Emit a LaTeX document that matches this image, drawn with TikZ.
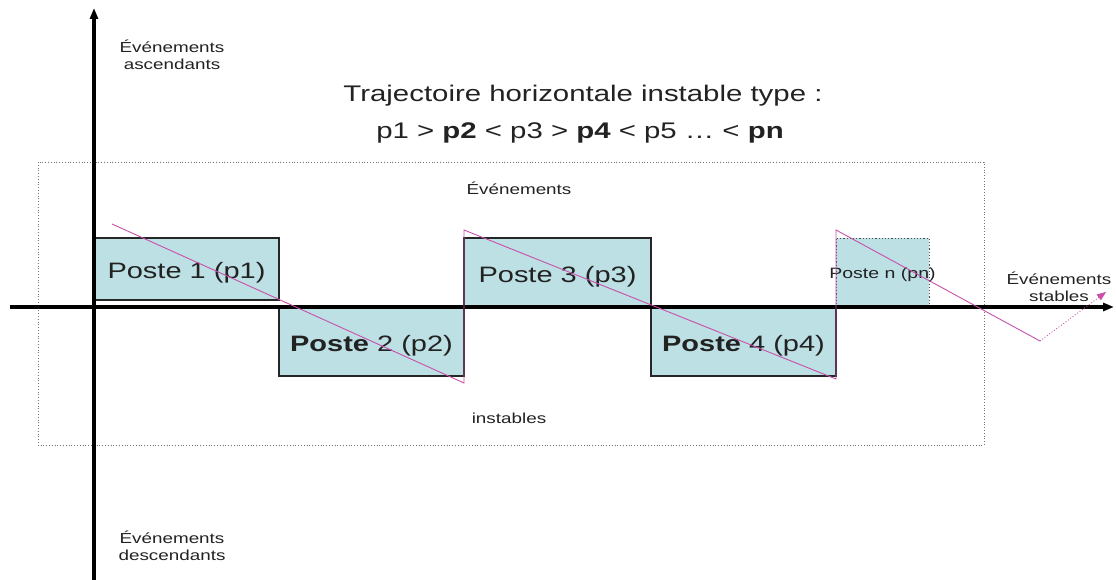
\documentclass[tikz,border=0pt]{standalone}
\usepackage{fontspec}
\setmainfont[FakeStretch=1.3]{Liberation Sans}
\usetikzlibrary{arrows.meta}
\definecolor{boxfill}{RGB}{189,224,228}
\definecolor{txt}{RGB}{34,34,34}
\definecolor{traj}{RGB}{200,80,170}
\begin{document}
\begin{tikzpicture}[x=1pt,y=-1pt,
  lbl/.style={inner sep=0pt,text=txt,align=center,font=\fontsize{14.5}{17}\selectfont},
  big/.style={inner sep=0pt,text=txt,font=\fontsize{22.6}{26}\selectfont},
  poste/.style={draw=black!85,line width=1.2pt,fill=boxfill,inner sep=0pt,text=txt,font=\fontsize{22.3}{26}\selectfont},
  axis/.style={line width=3.2pt,-{Triangle[length=11pt,width=8pt]}},
  trajline/.style={draw=traj,line width=0.9pt}]
\useasboundingbox (0,0) rectangle (1116,580);
% dotted frame
\draw[black!55,dotted,line width=0.8pt] (38,162) rectangle (984,445);
% boxes
\node[poste,minimum width=185pt,minimum height=62pt] (p1) at (186.5,269) {};
\node[poste,minimum width=185pt,minimum height=69pt] (p2) at (371.5,341.5) {};
\node[poste,minimum width=187pt,minimum height=69pt] (p3) at (557.5,272.5) {};
\node[poste,minimum width=185pt,minimum height=69pt] (p4) at (743.5,341.5) {};
\node[poste,draw=black!70,dotted,line width=0.9pt,minimum width=93pt,minimum height=69pt] (pn) at (882.5,272.5) {};
% axes
\coordinate (xs) at (10,307); \coordinate (xe) at (1114,307);
\coordinate (ys) at (94,580); \coordinate (ye) at (94,8);
\draw[axis] (xs) -- (xe);
\draw[axis] (ys) -- (ye);
% box labels
\node[poste,draw=none,fill=none] (l1) at ([yshift=-4pt]p1.center) {Poste 1 (p1)};
\node[poste,draw=none,fill=none] (l2) at ([yshift=-4pt]p2.center) {\textbf{Poste} 2 (p2)};
\node[poste,draw=none,fill=none] (l3) at ([yshift=-4pt]p3.center) {Poste 3 (p3)};
\node[poste,draw=none,fill=none] (l4) at ([yshift=-4pt]p4.center) {\textbf{Poste} 4 (p4)};
\node[poste,draw=none,fill=none,font=\fontsize{15}{18}\selectfont] (ln) at ([yshift=-2.5pt]pn.center) {Poste n (pn)};
% trajectory
\coordinate (t0) at (112,224);
\coordinate (t1) at (464,383);
\coordinate (t2) at (464,230);
\coordinate (t3) at (836,379);
\coordinate (t4) at (836,230);
\coordinate (t5) at (1040,341);
\coordinate (t6) at (1106,292);
\draw[trajline] (t0) -- (t1) -- (t2) -- (t3) -- (t4) -- (t5);
\draw[trajline,dotted,-{Triangle[length=9pt,width=7pt]}] (t5) -- (t6);
% texts
\node[lbl] (asc) at (172,55) {Événements\\ascendants};
\node[lbl] (desc) at (172,546) {Événements\\descendants};
\node[lbl] (stab) at (1059,287) {Événements\\stables};
\node[lbl] (ev) at (519,188) {Événements};
\node[lbl] (inst) at (509,418) {instables};
\node[big] (title) at (583,96) {Trajectoire horizontale instable type :};
\node[big] (rel) at (580,133) {p1 > \textbf{p2} < p3 > \textbf{p4} < p5 … < \textbf{pn}};
\end{tikzpicture}
\end{document}
